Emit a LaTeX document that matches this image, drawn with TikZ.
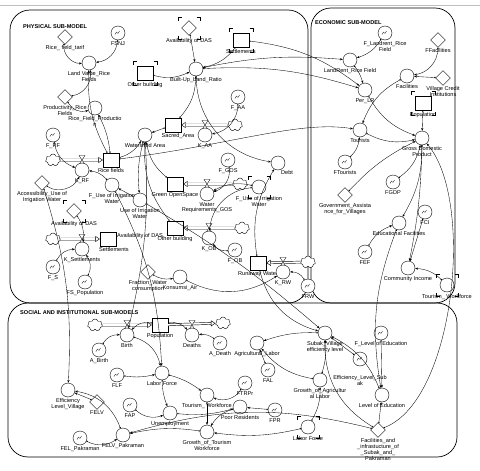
\documentclass[tikz,border=0pt]{standalone}
\usepackage{fontspec}
\setmainfont{Liberation Sans}
\usetikzlibrary{shapes.geometric,shapes.symbols,arrows.meta,calc}

\newcommand\Ghost[2]{% corner brackets round a ghost
  \draw[ghostc] ($(#1)+(-#2,-#2+3.5)$) -- ++(0,-3.5) -- ++(3.5,0);
  \draw[ghostc] ($(#1)+(#2-3.5,-#2)$) -- ++(3.5,0) -- ++(0,3.5);
  \draw[ghostc] ($(#1)+(-#2,#2-3.5)$) -- ++(0,3.5) -- ++(3.5,0);
  \draw[ghostc] ($(#1)+(#2-3.5,#2)$) -- ++(3.5,0) -- ++(0,-3.5);
}
\tikzset{
  panel/.style={draw,line width=0.7pt,rounded corners=20pt},
  ttl/.style={font=\fontsize{5.6}{6}\selectfont\bfseries,inner sep=0pt,anchor=west},
  conv/.style={circle,draw,fill=white,minimum size=14pt,inner sep=0pt,line width=0.4pt},
  graph/.style={conv,path picture={\draw[line width=0.3pt] ($(path picture bounding box.center)+(-3,1.5)$) -- ++(1.5,-2.5) -- ++(1.5,1.5) -- ++(1.5,-2.5);}},
  stockbox/.style={rectangle,draw,fill=white,minimum width=16pt,minimum height=14pt,inner sep=0pt,line width=0.4pt},
  const/.style={diamond,draw,fill=white,minimum width=15pt,minimum height=15pt,inner sep=0pt,line width=0.4pt},
  cloudy/.style={cloud,cloud puffs=7,aspect=1.3,draw,fill=white,minimum width=15pt,minimum height=12pt,inner sep=0pt,line width=0.4pt},
  lbl/.style={align=center,inner sep=0.3pt,font=\fontsize{5.6}{5.9}\selectfont},
  every label/.style={lbl},
  label distance=0.5pt,
  conn/.style={draw,line width=0.35pt,{Circle[open,length=1.5pt]}-{Stealth[length=2.8pt,width=2.2pt]}},
  flow/.style={draw,line width=0.45pt,double distance=1.6pt,-{Triangle[open,length=4.5pt,width=6pt]}},
  ghostc/.style={draw,line width=0.3pt},
  valve/.pic={\draw[fill=white,line width=0.35pt] (-3,-4.5) -- (3,-4.5) -- (-3,4.5) -- (3,4.5) -- cycle;}
}

\begin{document}
\begin{tikzpicture}[x=1pt,y=-1pt]
  \useasboundingbox (0,0) rectangle (480,471);
  \draw[gray!50] (0,5) -- (480,5);
  % panels
  \draw[panel] (10,10) rectangle (308,303);
  \draw[panel] (311,8) rectangle (455,303);
  \draw[panel] (8,303) rectangle (457,457);
  \node[ttl] (tPhy) at (23,27) {PHYSICAL SUB-MODEL};
  \node[ttl] (tEco) at (315,23) {ECONOMIC SUB-MODEL};
  \node[ttl] (tSoc) at (20,313) {SOCIAL AND INSTITUTIONAL SUB-MODELS};

  % physical sub-model
  \node[const,label=below:{Rice\_ field\_tarif}] (cRFT) at (65,37) {};
  \node[graph,label=below:FSNJ] (gFSNJ) at (118,33) {};
  \node[conv,label=below:{Land Value\_Rice\\Fields}] (cLV) at (89,63) {};
  \node[const,label=below:{Productivity\_Rice\\Fields}] (dProd) at (65,97) {};
  \node[conv,label=below:{Rice\_Field\_Productio\\n}] (cRFP) at (95,108) {};
  \node[graph,label=below:F\_RF] (gFRF) at (53,135) {};
  \node[stockbox,label={[label distance=2pt]below:Other building}] (ghOB) at (145,73) {};
  \Ghost{ghOB}{12}
  \node[conv,label=below:Watershed Area] (cWA) at (145,135) {};
  \node[stockbox,label={[xshift=5pt]below:Sacred\_Area}] (sSA) at (173,125) {};
  \node[conv,label=below:{Built-Up\_Land\_Ratio}] (cBLR) at (196,69) {};
  \node[const,label={[label distance=2pt]below:Availability of DAS}] (ghDAS) at (189,28) {};
  \Ghost{ghDAS}{11}
  \node[stockbox,label={[label distance=2pt]below:Settlements}] (ghSet) at (241,40) {};
  \Ghost{ghSet}{12}
  \node[cloudy] (clAA) at (235,125) {};
  \draw[flow] (clAA) -- (sSA);
  \pic at (205,125) {valve};
  \node[conv,label=below:K\_AA] (fKAA) at (205,135) {};
  \node[graph,label=below:F\_AA] (gFAA) at (238,97) {};
  \node[conv,label={-70:Debt}] (cDebt) at (278,163) {};
  \node[stockbox,label=below:{Rice fields}] (sRF) at (111,160) {};
  \node[cloudy] (clRF) at (53,160) {};
  \draw[flow] (clRF) -- (sRF);
  \pic at (82,160) {valve};
  \node[conv,label=below:K\_RF] (fKRF) at (82,170) {};
  \node[graph,label=below:F\_GOS] (gFGOS) at (228,160) {};
  \node[stockbox,label=below:Green OpenSpace] (sGOS) at (175,184) {};
  \node[cloudy] (clGOS) at (240,184) {};
  \draw[flow] (clGOS) -- (sGOS);
  \pic at (207,184) {valve};
  \node[conv,label=below:{Water\\Requirements\_GOS}] (fWRG) at (207,194) {};
  \node[conv,label={[label distance=2pt]below:{F\_Use of Irrigation\\Water}}] (ghFUIW) at (259,187) {};
  \Ghost{ghFUIW}{11}
  \node[stockbox,label=below:Other building] (sOB) at (175,228) {};
  \node[cloudy] (clOB) at (242,228) {};
  \draw[flow] (clOB) -- (sOB);
  \pic at (209,228) {valve};
  \node[conv,label=below:K\_OB] (fKOB) at (209,238) {};
  \node[graph,label=below:F\_OB] (gFOB) at (235,250) {};
  \node[stockbox,label=below:Runaway Water] (sRW) at (258,263) {};
  \node[cloudy] (clRW) at (308,262) {};
  \draw[flow] (clRW) -- (sRW);
  \pic at (283,262) {valve};
  \node[conv,label=below:K\_RW] (fKRW) at (283,272) {};
  \node[graph,label=below:FRW] (gFRW) at (308,286) {};
  \node[const,label=below:{Fraction\_Water\\consumption}] (dFWC) at (148,272) {};
  \node[conv,label=below:Konsumsi\_Air] (cKA) at (180,277) {};
  \node[const,label=below:{Accessibility\_Use of\\Irrigation Water}] (dAUIW) at (42,183) {};
  \node[conv,label=below:{F\_Use of Irrigation\\Water}] (cFUIW) at (112,185) {};
  \node[conv,label=below:{Use of Irrigation\\Water}] (cUIW) at (140,200) {};
  \node[const,label={[label distance=2pt]below:Availability of DAS}] (ghDAS2) at (74,211) {};
  \Ghost{ghDAS2}{11}
  \node[stockbox,label={[xshift=6pt]below:Settlements},label={[yshift=3pt]right:Availability of DAS}] (sSet) at (108,239) {};
  \node[cloudy] (clSet) at (53,239) {};
  \draw[flow] (clSet) -- (sSet);
  \pic at (82,239) {valve};
  \node[conv,label=below:K\_Settlements] (fKSet) at (82,249) {};
  \node[graph,label=below:F\_S] (gFS) at (53,267) {};
  \node[graph,label=below:FS\_Population] (gFSP) at (85,282) {};

  % economic sub-model
  \node[graph,label=below:{F\_Landrent\_Rice\\Field}] (gFLR) at (385,33) {};
  \node[const,label=below:FFacilities] (dFF) at (438,40) {};
  \node[conv,label=below:{LandRent\_Rice Field}] (cLR) at (350,60) {};
  \node[const,label=below:{Village Credit\\Institutions}] (dVCI) at (443,78) {};
  \node[conv,label=below:Facilities] (cFac) at (407,76) {};
  \node[conv,label=below:Per\_LR] (cPLR) at (365,90) {};
  \node[stockbox,label={[label distance=2pt]below:Population}] (ghPop) at (423,103) {};
  \Ghost{ghPop}{12}
  \node[conv,label=below:Tourists] (cTour) at (360,130) {};
  \node[conv,label=below:{Gross Domestic\\Product}] (cGDP) at (422,138) {};
  \node[graph,label=below:FTourists] (gFT) at (345,162) {};
  \node[const,label=below:{Government\_Assista\\nce\_for\_Villages}] (dGAV) at (345,195) {};
  \node[graph,label=below:FGDP] (gFGDP) at (393,182) {};
  \node[conv,label=below:Educational Facilities] (cEF) at (399,223) {};
  \node[graph,label=below:FCI] (gFCI) at (425,212) {};
  \node[graph,label=below:FEF] (gFEF) at (365,252) {};
  \node[conv,label=below:Community Income] (cCI) at (408,268) {};
  \node[conv,label={[label distance=2pt]below:{Tourism\_ Workforce}}] (ghTW) at (447,285) {};
  \Ghost{ghTW}{11}

  % social and institutional sub-models
  \node[stockbox,label=below:Population] (sPop) at (160,325) {};
  \node[cloudy] (clB) at (95,325) {};
  \node[cloudy] (clD) at (223,323) {};
  \draw[flow] (clB) -- (sPop);
  \draw[flow] (sPop) -- (clD);
  \pic at (127,325) {valve};
  \node[conv,label=below:Birth] (fBirth) at (127,335) {};
  \pic at (192,325) {valve};
  \node[conv,label=below:Deaths] (fDeaths) at (192,335) {};
  \node[graph,label=below:A\_Birth] (gAB) at (99,350) {};
  \node[conv,label=below:Labor Force] (cLF) at (162,373) {};
  \node[graph,label=below:FLF] (gFLF) at (117,375) {};
  \node[conv,label=below:{Efficiency\\Level\_Village}] (cELV) at (68,390) {};
  \node[const,label=below:FELV] (dFELV) at (97,402) {};
  \node[graph,label=below:FAP] (gFAP) at (130,405) {};
  \node[conv,label=below:Unemployment] (cUnemp) at (170,413) {};
  \node[conv,label=below:FELV\_Pakraman] (cFELVP) at (123,435) {};
  \node[graph,label=below:FEL\_Pakraman] (gFELP) at (80,438) {};
  \node[graph,label=below:A\_Death] (gAD) at (220,343) {};
  \node[conv,label=below:Agricultural\_Labor] (cAL) at (257,343) {};
  \node[graph,label=below:FAL] (gFAL) at (268,370) {};
  \node[graph,label=below:FTRPr] (gFTRPr) at (245,383) {};
  \node[conv,label=below:{Tourism\_ Workforce}] (cTW) at (207,395) {};
  \node[conv,label=below:Poor Residents] (cPR) at (240,407) {};
  \node[graph,label=below:FPR] (gFPR) at (275,410) {};
  \node[conv,label=below:{Growth\_of\_Tourism\\Workforce}] (cGTW) at (207,432) {};
  \node[conv,label=below:{Growth\_of\_Agricultur\\al Labor}] (cGAL) at (320,380) {};
  \node[conv,label={[label distance=2pt]below:Labor Force}] (ghLF) at (308,427) {};
  \Ghost{ghLF}{11}
  \node[conv,label=below:{Subak\_Village\\efficiency level}] (cSVE) at (325,333) {};
  \node[graph,label=below:F\_Level of Education] (gFLE) at (381,333) {};
  \node[graph,label={[label distance=9pt]below:{Efficiency\_Level\_Sub\\ak}}] (cELS) at (360,359) {};
  \node[conv,label=below:Level of Education] (cLE) at (382,395) {};
  \node[const,label=below:{Facilities\_and\\\_infrastucture\_of\\\_Subak\_and\_\\Pakraman}] (dFIS) at (378,430) {};

  % connectors, physical
  \draw[conn] (cRFT) to[bend right=50] (cLV);
  \draw[conn] (gFSNJ) to[bend left=40] (cLV);
  \draw[conn] (sRF) to[bend left=15] (cLV);
  \draw[conn] (dProd) to[bend right=45] (cLV);
  \draw[conn] (dProd) to[bend right=40] (cRFP);
  \draw[conn] (sRF) to[bend right=10] (cRFP);
  \draw[conn] (gFRF) to[bend right=30] (fKRF);
  \draw[conn] (sRF) to[bend right=20] (cWA);
  \draw[conn] (sSA) -- (cWA);
  \draw[conn] (sGOS) to[bend left=20] (cWA);
  \draw[conn] (sOB) to[bend left=20] (cWA);
  \draw[conn] (ghOB) to[bend right=20] (cBLR);
  \draw[conn] (ghDAS) -- (cBLR);
  \draw[conn] (ghSet) to[bend left=20] (cBLR);
  \draw[conn] (sSA) to[bend right=20] (cBLR);
  \draw[conn] (cBLR) to[bend left=8] (cLR);
  \draw[conn] (ghSet) to[bend left=15] (cPLR);
  \draw[conn] (cBLR) to[bend left=10] (cPLR);
  \draw[conn] (cBLR) to[bend right=40] (cDebt);
  \draw[conn] (gFAA) to[bend left=40] (fKAA);
  \draw[conn] (sRF) .. controls (230,145) and (300,120) .. (cTour);
  \draw[conn] (gFGOS) to[bend left=40] (fWRG);
  \draw[conn] (ghFUIW) to[bend right=20] (fWRG);
  \draw[conn] (ghFUIW) to[bend right=40] (fKOB);
  \draw[conn] (gFOB) to[bend left=30] (fKOB);
  \draw[conn] (gFRW) to[bend right=30] (fKRW);
  \draw[conn] (dFWC) to[bend right=20] (cKA);
  \draw[conn] (cKA) to[bend right=30] (fKRW);
  \draw[conn] (sRW) to[bend left=20] (cDebt);
  \draw[conn] (dAUIW) to[bend right=50] (fKRF);
  \draw[conn] (cFUIW) to[bend right=20] (fKRF);
  \draw[conn] (cUIW) -- (cFUIW);
  \draw[conn] (cWA) to[bend right=10] (cUIW);
  \draw[conn] (ghDAS2) to[bend left=20] (fKSet);
  \draw[conn] (gFS) to[bend left=30] (fKSet);
  \draw[conn] (gFSP) to[bend right=30] (fKSet);
  \draw[conn] (dAUIW) to[bend left=10] (cELV);
  \draw[conn] (cUIW) to[bend left=5] (cSVE);
  \draw[conn] (sRW) to[bend right=30] (cSVE);
  \draw[conn] (cWA) to[bend left=8] (fBirth);
  \draw[conn] (cFUIW) to[bend left=12] (cLF);

  % connectors, economic
  \draw[conn] (gFLR) to[bend left=20] (cLR);
  \draw[conn] (cLR) to[bend left=10] (cPLR);
  \draw[conn] (cPLR) to[bend right=20] (cGDP);
  \draw[conn] (dFF) to[bend left=40] (cFac);
  \draw[conn] (dVCI) -- (cFac);
  \draw[conn] (cFac) to[bend right=20] (cTour);
  \draw[conn] (ghPop) -- (cGDP);
  \draw[conn] (cTour) to[bend right=20] (cGDP);
  \draw[conn] (gFT) to[bend right=20] (cTour);
  \draw[conn] (dGAV) to[bend left=10] (cGDP);
  \draw[conn] (gFGDP) to[bend right=20] (cGDP);
  \draw[conn] (cGDP) to[bend left=15] (cEF);
  \draw[conn] (gFEF) to[bend left=20] (cEF);
  \draw[conn] (cGDP) to[bend left=5] (cCI);
  \draw[conn] (gFCI) -- (cCI);
  \draw[conn] (ghTW) to[bend right=20] (cCI);
  \draw[conn] (cEF) to[bend right=15] (cLE);
  \draw[conn] (dFIS) .. controls (455,400) and (475,200) .. (cGDP);

  % connectors, social
  \draw[conn] (gAB) to[bend left=30] (fBirth);
  \draw[conn] (sPop) to[bend right=30] (fBirth);
  \draw[conn] (sPop) to[bend left=30] (fDeaths);
  \draw[conn] (gAD) to[bend right=20] (fDeaths);
  \draw[conn] (fBirth) to[bend left=30] (cLF);
  \draw[conn] (gFLF) to[bend right=10] (cLF);
  \draw[conn] (cLF) to[bend right=10] (cUnemp);
  \draw[conn] (gFAP) to[bend right=30] (cUnemp);
  \draw[conn] (cLF) to[bend left=10] (cTW);
  \draw[conn] (gFTRPr) to[bend left=40] (cTW);
  \draw[conn] (cTW) -- (cGTW);
  \draw[conn] (cPR) to[bend right=20] (cGTW);
  \draw[conn] (gFPR) -- (cPR);
  \draw[conn] (cUnemp) to[bend right=10] (cPR);
  \draw[conn] (ghLF) to[bend left=10] (cGTW);
  \draw[conn] (ghLF) to[bend right=15] (cGAL);
  \draw[conn] (cGAL) to[bend right=10] (cSVE);
  \draw[conn] (cSVE) to[bend right=10] (cAL);
  \draw[conn] (cGAL) to[bend left=20] (cAL);
  \draw[conn] (gFAL) -- (cAL);
  \draw[conn] (gFLE) -- (cLE);
  \draw[conn] (cELS) -- (cSVE);
  \draw[conn] (cLE) to[bend right=20] (cSVE);
  \draw[conn] (dFIS) to[bend left=30] (cSVE);
  \draw[conn] (dFIS) -- (cLE);
  \draw[conn] (dFELV) -- (cELV);
  \draw[conn] (cFELVP) to[bend right=30] (cELV);
  \draw[conn] (gFELP) to[bend right=30] (cFELVP);
  \draw[conn] (cGTW) to[bend right=10] (cFELVP);
  \draw[conn] (dFIS) to[bend right=15] (cFELVP);
\end{tikzpicture}
\end{document}
